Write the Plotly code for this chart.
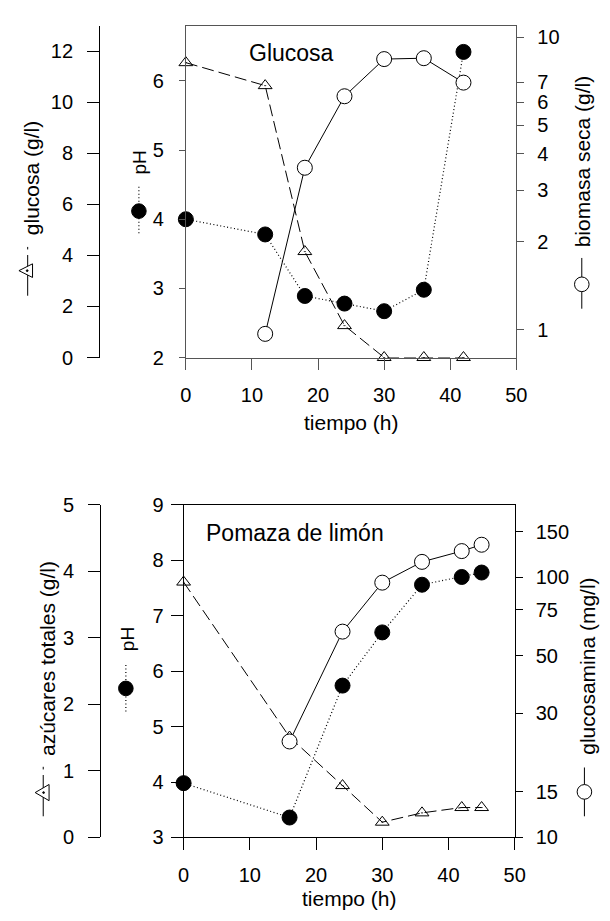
import plotly.graph_objects as go

W, H = 610, 921

# --- Fermentación en glucosa ---
t_glc = [0, 12, 18, 24, 30, 36, 42]
glucosa = [11.55, 10.65, 4.15, 1.25, 0.0, 0.0, 0.0]
ph_glc = [4.0, 3.78, 2.89, 2.78, 2.67, 2.98, 6.42]
t_bio = [12, 18, 24, 30, 36, 42]
biomasa = [0.97, 3.58, 6.28, 8.41, 8.47, 6.99]

# --- Fermentación en pomaza de limón ---
t_lim = [0, 16, 24, 30, 36, 42, 45]
azucares = [3.84, 1.51, 0.78, 0.23, 0.37, 0.45, 0.45]
ph_lim = [3.98, 3.36, 5.74, 6.70, 7.56, 7.70, 7.78]
t_gsa = [16, 24, 30, 36, 42, 45]
glucosamina = [23.4, 61.9, 95.5, 114.8, 126.3, 133.6]

# tick values
x_ticks = [0, 10, 20, 30, 40, 50]
glucosa_ticks = [0, 2, 4, 6, 8, 10, 12]
ph_glc_ticks = [2, 3, 4, 5, 6]
biomasa_ticks = [1, 2, 3, 4, 5, 6, 7, 10]
azucar_ticks = [0, 1, 2, 3, 4, 5]
ph_lim_ticks = [3, 4, 5, 6, 7, 8, 9]
glucosamina_ticks = [10, 15, 30, 50, 75, 100, 150]

FONT = "Liberation Sans, Arial, sans-serif"
TICK_SIZE = 20
TITLE_SIZE = 21
GRAY = "#555555"


def px(x):
    return x / W


def py(y):
    return 1 - y / H


tri_line = dict(color="black", width=1, dash="12px,5px")
dot_line = dict(color="black", width=1.2, dash="1px,2.5px")
sol_line = dict(color="black", width=1)
tri_marker = dict(symbol="triangle-up-open-dot", size=12, color="black",
                  line=dict(color="black", width=1))
open_marker = dict(symbol="circle", size=15, color="white",
                   line=dict(color="black", width=1))
fill_marker = dict(symbol="circle", size=15, color="black",
                   line=dict(color="black", width=1))

fig = go.Figure()

# top panel traces
fig.add_trace(go.Scatter(x=t_glc, y=glucosa, xaxis="x", yaxis="y2", mode="lines+markers",
                         line=tri_line, marker=tri_marker, cliponaxis=False))
fig.add_trace(go.Scatter(x=t_glc, y=ph_glc, xaxis="x", yaxis="y", mode="lines+markers",
                         line=dot_line, marker=fill_marker, cliponaxis=False))
fig.add_trace(go.Scatter(x=t_bio, y=biomasa, xaxis="x", yaxis="y3", mode="lines+markers",
                         line=sol_line, marker=open_marker, cliponaxis=False))

# bottom panel traces
fig.add_trace(go.Scatter(x=t_lim, y=azucares, xaxis="x2", yaxis="y5", mode="lines+markers",
                         line=tri_line, marker=tri_marker, cliponaxis=False))
fig.add_trace(go.Scatter(x=t_lim, y=ph_lim, xaxis="x2", yaxis="y4", mode="lines+markers",
                         line=dot_line, marker=fill_marker, cliponaxis=False))
fig.add_trace(go.Scatter(x=t_gsa, y=glucosamina, xaxis="x2", yaxis="y6", mode="lines+markers",
                         line=sol_line, marker=open_marker, cliponaxis=False))

tickfont = dict(family=FONT, size=TICK_SIZE, color="black")


def axis(**kw):
    base = dict(showgrid=False, zeroline=False, showline=True, ticks="outside",
                tickfont=tickfont, linewidth=1, tickwidth=1, fixedrange=True)
    base.update(kw)
    return base


top_dom = [py(355), py(15)]
bot_dom = [py(846.7), py(506)]

fig.update_layout(
    width=W, height=H,
    margin=dict(l=0, r=0, t=0, b=0),
    paper_bgcolor="white", plot_bgcolor="white",
    showlegend=False,
    font=dict(family=FONT, color="black"),
    xaxis=axis(domain=[px(185), px(525)], anchor="y", range=[0, 50], tickvals=x_ticks,
               ticklen=11, ticklabelstandoff=8, mirror=True,
               linecolor=GRAY, tickcolor=GRAY),
    yaxis=axis(domain=top_dom, anchor="x", range=[2, 6.8], tickvals=ph_glc_ticks,
               ticklen=6, ticklabelstandoff=11, linecolor=GRAY, tickcolor=GRAY),
    yaxis2=axis(overlaying="y", anchor="free", position=px(95.7), side="left",
                range=[0, 13], tickvals=glucosa_ticks, ticklen=12, ticklabelstandoff=10,
                linecolor="black", tickcolor="black"),
    yaxis3=axis(overlaying="y", anchor="x", side="right", type="log",
                range=[-0.094, 1.039], tickvals=biomasa_ticks,
                ticktext=[str(v) for v in biomasa_ticks], ticklen=7, ticklabelstandoff=9,
                linecolor=GRAY, tickcolor=GRAY),
    xaxis2=axis(domain=[px(182.7), px(523.3)], anchor="y4", range=[0, 50], tickvals=x_ticks,
                ticklen=12, ticklabelstandoff=8, mirror=True,
                linecolor="black", tickcolor="black"),
    yaxis4=axis(domain=bot_dom, anchor="x2", range=[3, 9], tickvals=ph_lim_ticks,
                ticklen=12, ticklabelstandoff=3, linecolor="black", tickcolor="black"),
    yaxis5=axis(overlaying="y4", anchor="free", position=px(96.7), side="left",
                range=[0, 5], tickvals=azucar_ticks, ticklen=12, ticklabelstandoff=10,
                linecolor="black", tickcolor="black"),
    yaxis6=axis(overlaying="y4", anchor="x2", side="right", type="log",
                range=[1, 2.279], tickvals=glucosamina_ticks,
                ticktext=[str(v) for v in glucosamina_ticks], ticklen=7, ticklabelstandoff=9,
                linecolor="black", tickcolor="black"),
)


def text(s, x, y, size=TITLE_SIZE, angle=0, xanchor="center"):
    fig.add_annotation(text=s, x=px(x), y=py(y), xref="paper", yref="paper",
                       xanchor=xanchor, yanchor="middle", textangle=angle,
                       showarrow=False, font=dict(family=FONT, size=size, color="black"))


# panel labels
text("Glucosa", 248, 43, size=23, xanchor="left")
text("Pomaza de limón", 204, 535, size=23, xanchor="left")

# axis titles
text("tiempo (h)", 355, 422)
text("tiempo (h)", 353, 909)
text("glucosa (g/l)", 27, 171, angle=-90)
text("pH", 137, 155, size=19, angle=-90)
text("biomasa seca (g/l)", 593, 153.5, angle=-90)
text("azúcares totales (g/l)", 42, 663, angle=-90)
text("pH", 125, 644, size=19, angle=-90)
text("glucosamina (mg/l)", 598, 671.5, angle=-90)


# series keys drawn beside the rotated titles
def vline(x, y0, y1, dash="solid", width=1):
    fig.add_shape(type="line", xref="paper", yref="paper",
                  x0=px(x), x1=px(x), y0=py(y0), y1=py(y1),
                  line=dict(color="black", width=width, dash=dash))


def circle(x, y, r, fill):
    fig.add_shape(type="circle", xref="paper", yref="paper",
                  x0=px(x - r), x1=px(x + r), y0=py(y + r), y1=py(y - r),
                  fillcolor=fill, line=dict(color="black", width=1))


def tri_left(xt, xb, yc, half):
    path = (f"M {px(xt)},{py(yc)} L {px(xb)},{py(yc - half)} "
            f"L {px(xb)},{py(yc + half)} Z")
    fig.add_shape(type="path", xref="paper", yref="paper", path=path,
                  fillcolor="white", line=dict(color="black", width=1))
    circle((xt + xb) / 2 + 1.5, yc, 0.9, "black")


# glucosa key
vline(22.3, 250, 291.7)
vline(22.3, 241.7, 244.3)
tri_left(13.3, 27.3, 266, 7)
# pH key (top)
vline(136.7, 180, 230, dash="1px,2.5px", width=1.2)
circle(136.7, 205, 7.5, "black")
# biomasa key
vline(592.3, 253, 305)
circle(592.3, 280, 7.5, "white")
# azúcares key
vline(38.3, 782.7, 825)
vline(38.3, 774.3, 777)
tri_left(30, 44.3, 800.7, 8.3)
# pH key (bottom)
vline(123.3, 670, 718, dash="1px,2.5px", width=1.2)
circle(123.3, 694, 7.5, "black")
# glucosamina key
vline(595, 775, 825)
circle(595, 800, 7.5, "white")

fig.write_html("out.html")
